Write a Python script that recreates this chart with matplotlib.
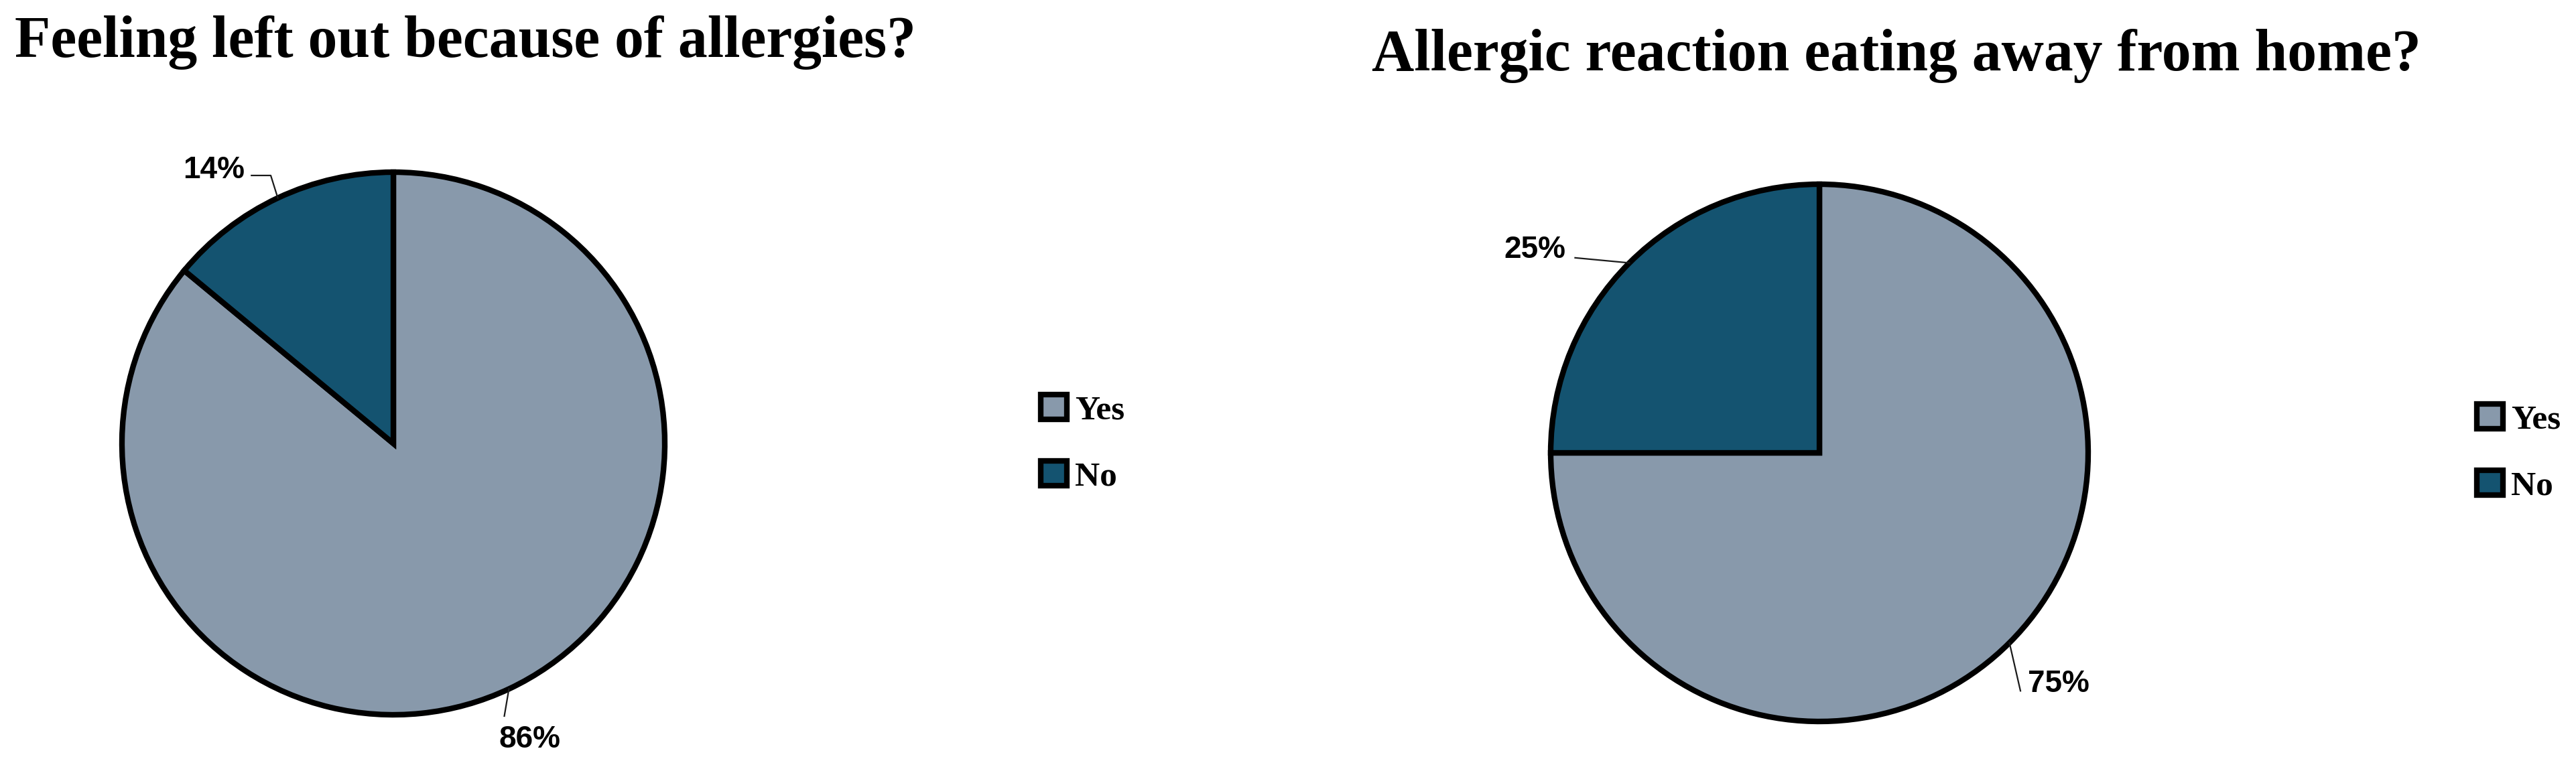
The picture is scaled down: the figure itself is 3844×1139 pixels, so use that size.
import matplotlib

matplotlib.use('Agg')
import matplotlib.pyplot as plt
import numpy as np

W, H = 3844, 1139

answers = ["Yes", "No"]
colors = ["#8899AB", "#145370"]

left_title = "Feeling left out because of allergies?"
left_values = [86, 14]

right_title = "Allergic reaction eating away from home?"
right_values = [75, 25]

# leader line layout per wedge: (knee offset, end offset, text offset, ha)
left_leaders = [
    ((-0.017, -0.100), (0.0, 0.0), (-0.019, -0.115), 'left'),
    ((-0.026, 0.083), (-0.071, 0.0), (-0.025, -0.010), 'right'),
]
right_leaders = [
    ((0.041, -0.179), (0.0, 0.0), (0.027, -0.005), 'left'),
    ((-0.202, 0.019), (0.0, 0.0), (-0.034, 0.0), 'right'),
]

title_font = dict(family='Liberation Serif', weight='bold', size=63)
label_font = dict(family='Liberation Sans', weight='bold', size=33)
legend_font = dict(family='Liberation Serif', weight='bold', size=37)


def pie_axes(fig, cx, cy, r):
    # cx, cy, r in pixels, y counted from the top
    ax = fig.add_axes([(cx - r) / W, (H - cy - r) / H, 2 * r / W, 2 * r / H])
    ax.axis('off')
    return ax


def draw_pie(fig, cx, cy, r, values, leaders, legend_x):
    ax = pie_axes(fig, cx, cy, r)
    wedges, _ = ax.pie(values, colors=colors, startangle=90, counterclock=False, radius=1,
                       wedgeprops=dict(edgecolor='black', linewidth=6))
    # pie() widens the limits to 1.25, pull them back so the radius fills the box
    ax.set_xlim(-1, 1)
    ax.set_ylim(-1, 1)
    ax.set_aspect('equal')
    for w in wedges:
        w.set_clip_on(False)

    for w, v, (knee, arm, toff, ha) in zip(wedges, values, leaders):
        mid = np.deg2rad((w.theta1 + w.theta2) / 2)
        ex, ey = np.cos(mid), np.sin(mid)
        kx, ky = ex + knee[0], ey + knee[1]
        nx, ny = kx + arm[0], ky + arm[1]
        ax.plot([ex, kx, nx], [ey, ky, ny], color='#1a1a1a', lw=1.6, clip_on=False, zorder=3)
        ax.text(nx + toff[0], ny + toff[1], f"{v:.0f}%", ha=ha, va='baseline', **label_font)

    ax.legend(wedges, answers, loc='center left', bbox_to_anchor=(legend_x / W, 1 - cy / H),
              bbox_transform=fig.transFigure, frameon=False, borderpad=0, borderaxespad=0,
              handlelength=0.75, handleheight=0.75, handletextpad=0.25, labelspacing=1.0,
              prop=legend_font)
    return ax


fig = plt.figure(figsize=(W / 100, H / 100), dpi=100)

fig.text(22 / W, 1 - 85 / H, left_title, ha='left', va='baseline', **title_font)
fig.text(2047 / W, 1 - 105 / H, right_title, ha='left', va='baseline', **title_font)

draw_pie(fig, 587, 662, 405, left_values, left_leaders, 1553)
draw_pie(fig, 2715, 676, 401, right_values, right_leaders, 3696)

fig.savefig('out.png', dpi=100, facecolor='white')
